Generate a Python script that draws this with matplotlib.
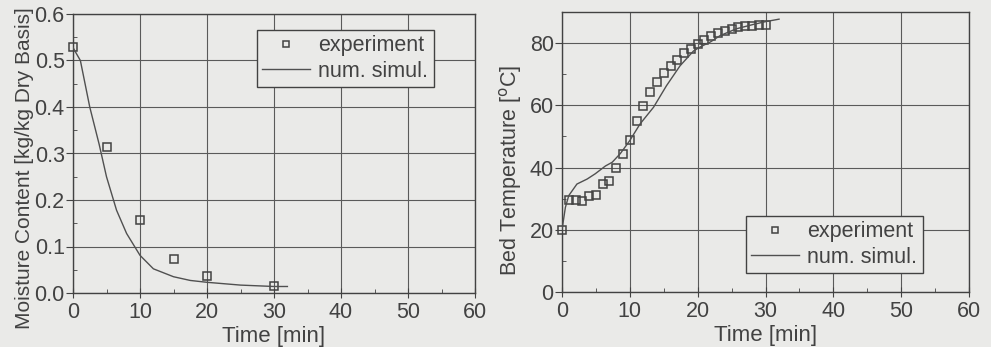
import matplotlib
matplotlib.use("Agg")
import matplotlib.pyplot as plt
from matplotlib.ticker import MultipleLocator, FormatStrFormatter

plt.rcParams['font.family'] = ['Liberation Sans', 'DejaVu Sans']

# ---- Moisture content data ----
mc_exp_t = [0, 5, 10, 15, 20, 30]
mc_exp_v = [0.528, 0.315, 0.156, 0.074, 0.036, 0.016]
mc_sim_t = [0, 0.5, 1.1, 1.8, 2.5, 3.2, 3.9, 5, 6.5, 8, 10, 12, 15, 17.5, 20, 25, 30, 32]
mc_sim_v = [0.528, 0.515, 0.500, 0.450, 0.400, 0.360, 0.320, 0.250, 0.178, 0.128,
            0.081, 0.052, 0.035, 0.027, 0.023, 0.017, 0.014, 0.014]

# ---- Bed temperature data ----
bt_exp_t = list(range(0, 31))
bt_exp_v = [20.0, 29.7, 29.7, 29.4, 31.0, 31.3, 34.8, 35.8, 39.8, 44.4, 48.9,
            55.1, 59.9, 64.2, 67.6, 70.3, 72.7, 74.5, 76.7, 78.0, 79.7,
            81.0, 82.4, 83.2, 84.0, 84.5, 85.2, 85.5, 85.5, 85.8, 85.9]
bt_sim_t = [0, 0.5, 1.0, 2.2, 3.7, 4.9, 6.4, 7.4, 8.6, 10, 11.5, 13.5, 15.4, 17.4,
            19.4, 20.4, 21.9, 23.3, 25.7, 28.2, 30, 32]
bt_sim_v = [20.0, 27.2, 31.0, 34.7, 36.3, 38.0, 40.5, 41.7, 44.5, 48.7, 54.0, 59.4,
            66.3, 72.7, 77.5, 78.8, 80.4, 82.4, 84.6, 86.0, 86.9, 87.7]

x_ticks = [0, 10, 20, 30, 40, 50, 60]

bg = '#eaeae8'
ink = '#424242'

fig = plt.figure(figsize=(9.91, 3.47), dpi=100, facecolor=bg)
ax1 = fig.add_axes([73/991, 1-293/347, 402/991, 279/347])
ax2 = fig.add_axes([562/991, 1-292/347, 407/991, 280/347])

def style(ax):
    ax.set_facecolor(bg)
    for s in ax.spines.values():
        s.set_color(ink)
        s.set_linewidth(1.0)
    ax.grid(True, which='major', color='#5a5a5a', linewidth=0.8)
    ax.set_axisbelow(True)
    ax.tick_params(axis='both', which='both', colors=ink, labelsize=15.5, labelcolor=ink)
    ax.tick_params(axis='x', which='major', direction='inout', length=7, pad=3)
    ax.tick_params(axis='x', which='minor', direction='in', length=3)
    ax.tick_params(axis='y', which='major', direction='out', length=5, pad=1)
    ax.tick_params(axis='y', which='minor', direction='in', length=3)
    ax.set_xlim(0, 60)
    ax.set_xticks(x_ticks)
    ax.xaxis.set_minor_locator(MultipleLocator(5))
    ax.set_xlabel('Time [min]', fontsize=16, color=ink, labelpad=2)

def style_legend(leg):
    fr = leg.get_frame()
    fr.set_edgecolor(ink)
    fr.set_facecolor(bg)
    fr.set_alpha(1)
    fr.set_linewidth(1.0)
    for t in leg.get_texts():
        t.set_color(ink)

leg_kw = dict(fontsize=15.5, frameon=True, fancybox=False, borderpad=0.25,
              handlelength=2.2, handletextpad=0.4, borderaxespad=0,
              labelspacing=0.2, markerscale=0.75)

style(ax1)
ax1.plot(mc_exp_t, mc_exp_v, linestyle='none', marker='s', markersize=6.2,
         markerfacecolor='none', markeredgecolor=ink, markeredgewidth=1.1,
         label='experiment', zorder=3, clip_on=False)
ax1.plot(mc_sim_t, mc_sim_v, color='#505050', linewidth=1.0, label='num. simul.', zorder=3)
ax1.set_ylim(0, 0.6)
ax1.yaxis.set_major_locator(MultipleLocator(0.1))
ax1.yaxis.set_minor_locator(MultipleLocator(0.05))
ax1.yaxis.set_major_formatter(FormatStrFormatter('%.1f'))
ax1.set_ylabel('Moisture Content [kg/kg Dry Basis]', fontsize=15, color=ink)
ax1.yaxis.set_label_coords(-0.097, 0.448)
leg1 = ax1.legend(loc='upper left', bbox_to_anchor=(0.458, 0.943), **leg_kw)
style_legend(leg1)

style(ax2)
ax2.plot(bt_exp_t, bt_exp_v, linestyle='none', marker='s', markersize=6.2,
         markerfacecolor='none', markeredgecolor=ink, markeredgewidth=1.1,
         label='experiment', zorder=3, clip_on=False)
ax2.plot(bt_sim_t, bt_sim_v, color='#505050', linewidth=1.0, label='num. simul.', zorder=3)
ax2.set_ylim(0, 90)
ax2.yaxis.set_major_locator(MultipleLocator(20))
ax2.yaxis.set_minor_locator(MultipleLocator(10))
ax2.set_ylabel('Bed Temperature [$^{\\mathrm{o}}$C]', fontsize=15.5, color=ink)
ax2.yaxis.set_label_coords(-0.093, 0.436)
leg2 = ax2.legend(loc='lower left', bbox_to_anchor=(0.452, 0.068), **leg_kw)
style_legend(leg2)

fig.savefig('out.png', dpi=100, facecolor=bg)
